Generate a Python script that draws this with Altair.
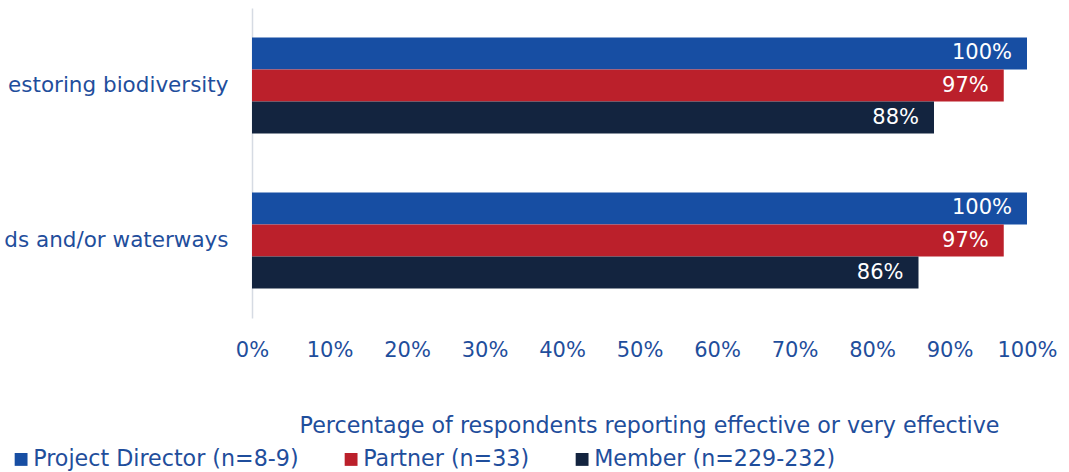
import altair as alt
import pandas as pd

categories = ["estoring biodiversity", "ds and/or waterways"]
groups = ["Project Director (n=8-9)", "Partner (n=33)", "Member (n=229-232)"]
project_director = [100, 100]
partner = [97, 97]
member = [88, 86]
colors = ["#174ea3", "#bb202b", "#13243f"]

rows = []
for i, c in enumerate(categories):
    for g, vals in zip(groups, [project_director, partner, member]):
        rows.append({"category": c, "group": g, "value": vals[i], "label": f"{vals[i]}%"})
df = pd.DataFrame(rows)

BLUE_TXT = "#1f4e9c"
FONT = "DejaVu Sans"

y = alt.Y("category:N", sort=categories, title=None,
          scale=alt.Scale(paddingInner=0.38, paddingOuter=0.19),
          axis=alt.Axis(labelFontSize=21.5, labelColor=BLUE_TXT, labelFont=FONT,
                        labelPadding=24, ticks=False, domainColor="#d6dbe3", domainWidth=1.5,
                        labelLimit=400))
yoff = alt.YOffset("group:N", sort=groups)

bars = alt.Chart(df).mark_bar().encode(
    x=alt.X("value:Q", scale=alt.Scale(domain=[0, 100]),
            axis=alt.Axis(values=list(range(0, 101, 10)), labelExpr="datum.value + '%'",
                          grid=False, domain=False, ticks=False, labelPadding=21,
                          labelFlush=False, labelOverlap=False,
                          labelFontSize=21, labelColor=BLUE_TXT, labelFont=FONT,
                          title="Percentage of respondents reporting effective or very effective",
                          titleFontSize=22.2, titleFontWeight="normal", titleColor=BLUE_TXT,
                          titleFont=FONT, titleX=397, titleY=107, titleBaseline="middle",
                          titleLimit=1000)),
    y=y,
    yOffset=yoff,
    color=alt.Color("group:N", sort=groups, scale=alt.Scale(domain=groups, range=colors),
                    legend=alt.Legend(title=None, orient="none", legendX=-242, legendY=440,
                                      direction="horizontal", columns=3, symbolType="square",
                                      symbolSize=165, symbolStrokeWidth=0, labelFontSize=22.2,
                                      labelColor=BLUE_TXT, labelFont=FONT, labelLimit=500,
                                      columnPadding=41, symbolOffset=0, labelOffset=1)),
)

text = alt.Chart(df).mark_text(align="right", baseline="middle", dx=-15, color="white",
                               fontSize=21, font=FONT).encode(
    x="value:Q", y=y, yOffset=yoff, text="label:N")

chart = (bars + text).properties(
    width=775, height=310,
    autosize=alt.AutoSizeParams(type="none"),
    padding={"left": 252, "top": 8, "right": 42, "bottom": 154},
).configure_view(stroke=None)

chart.save("out.html", embed_options={"renderer": "svg", "actions": False})
